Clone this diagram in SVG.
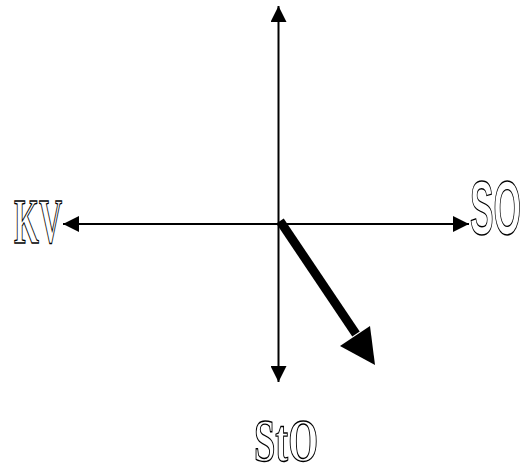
<svg xmlns="http://www.w3.org/2000/svg" width="530" height="468" viewBox="0 0 530 468">
<style>
.axis{stroke:#000;stroke-width:2;fill:none}
.lbl{fill:#fff;stroke:#000;stroke-width:1.4;font-weight:bold}
.serif{font-family:"Liberation Serif",serif}
.sans{font-family:"Liberation Sans",sans-serif}
</style>
<defs>
<marker id="ah" viewBox="0 0 16 16" refX="16" refY="8" markerWidth="16" markerHeight="16" markerUnits="userSpaceOnUse" orient="auto">
<path d="M0,0 L16,8 L0,16 Z" fill="#000"/>
</marker>
</defs>
<g id="connectors">
<line class="axis" x1="278.5" y1="224" x2="278.5" y2="6" marker-end="url(#ah)"/>
<line class="axis" x1="278.5" y1="224" x2="278.5" y2="382" marker-end="url(#ah)"/>
<line class="axis" x1="278.5" y1="224" x2="63" y2="224" marker-end="url(#ah)"/>
<line class="axis" x1="278.5" y1="224" x2="469" y2="224" marker-end="url(#ah)"/>
<line x1="280" y1="221" x2="356" y2="334" stroke="#000" stroke-width="9"/>
<path d="M375,365 L340,346 L370,326 Z" fill="#000"/>
</g>
<g id="KV"><text class="lbl serif" x="14" y="243" font-size="64" textLength="48" lengthAdjust="spacingAndGlyphs">KV</text></g>
<g id="SO"><text class="lbl sans" x="470" y="234" font-size="76" textLength="51" lengthAdjust="spacingAndGlyphs">SO</text></g>
<g id="StO"><text class="lbl serif" x="254" y="461" font-size="62" textLength="64" lengthAdjust="spacingAndGlyphs">StO</text></g>
</svg>
